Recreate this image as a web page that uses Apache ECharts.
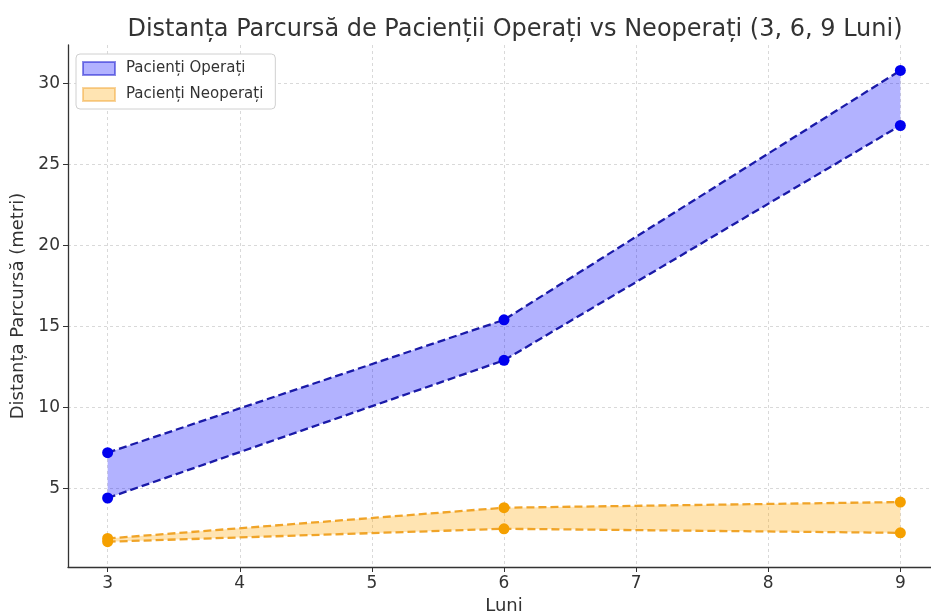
<!DOCTYPE html>
<html>
<head>
<meta charset="utf-8">
<script src="https://cdn.jsdelivr.net/npm/echarts@6/dist/echarts.min.js"></script>
<style>
html,body{margin:0;padding:0;background:#fff;}
#chart{width:931px;height:612px;}
</style>
</head>
<body>
<div id="chart"></div>
<script>
// ---- data ----
const months = [3, 6, 9];
const operatedHigh = [7.2, 15.4, 30.8];
const operatedLow = [4.4, 12.9, 27.4];
const nonOperatedHigh = [1.9, 3.8, 4.15];
const nonOperatedLow = [1.7, 2.5, 2.25];
const titleText = 'Distanța Parcursă de Pacienții Operați vs Neoperați (3, 6, 9 Luni)';
const xName = 'Luni';
const yName = 'Distanța Parcursă (metri)';
const nameOp = 'Pacienți Operați';
const nameNon = 'Pacienți Neoperați';

const FONT = 'DejaVu Sans';

function pairs(xs, ys) { return xs.map((x, i) => [x, ys[i]]); }

function bandSeries(name, low, high, fill, border) {
  return {
    name: name,
    type: 'custom',
    z: 1,
    itemStyle: { color: fill, borderColor: border, borderWidth: 1 },
    data: months.map((m, i) => [m, low[i], high[i]]),
    renderItem: function (params, api) {
      if (params.dataIndex !== 0) return null;
      const pts = [];
      for (let i = 0; i < months.length; i++) pts.push(api.coord([months[i], high[i]]));
      for (let i = months.length - 1; i >= 0; i--) pts.push(api.coord([months[i], low[i]]));
      return {
        type: 'polygon',
        shape: { points: pts },
        style: { fill: fill, stroke: null }
      };
    }
  };
}

function lineSeries(name, ys, lineColor, dotColor) {
  return {
    name: name,
    type: 'line',
    z: 3,
    data: pairs(months, ys),
    symbol: 'circle',
    symbolSize: 11,
    showSymbol: true,
    lineStyle: { color: lineColor, width: 2.3, type: [8, 4] },
    itemStyle: { color: dotColor, borderWidth: 0 },
    emphasis: { disabled: true },
    silent: true
  };
}

const chart = echarts.init(document.getElementById('chart'), null, { renderer: 'canvas' });

const gridLine = { show: true, showMinLine: false, showMaxLine: false, lineStyle: { color: '#d0d0d0', width: 0.8, type: [3, 3] } };

chart.setOption({
  animation: false,
  backgroundColor: '#ffffff',
  textStyle: { fontFamily: FONT },
  title: {
    text: titleText,
    left: 510,
    textAlign: 'center',
    top: 13,
    textStyle: { fontFamily: FONT, fontSize: 24, fontWeight: 'normal', color: '#333' }
  },
  legend: {
    orient: 'vertical',
    left: 76,
    top: 54,
    padding: [7, 12, 7, 6],
    itemGap: 11,
    itemWidth: 32,
    itemHeight: 13,
    backgroundColor: '#fff',
    borderColor: '#d0d0d0',
    borderWidth: 1,
    borderRadius: 4,
    data: [
      { name: nameOp, icon: 'rect' },
      { name: nameNon, icon: 'rect' }
    ],
    textStyle: { fontFamily: FONT, fontSize: 15, color: '#333', padding: [0, 0, 0, 6] }
  },
  grid: { left: 68, top: 45, right: -9, bottom: 45, containLabel: false, outerBoundsMode: 'none' },
  xAxis: {
    type: 'value',
    min: 2.7,
    max: 9.3,
    minInterval: 1,
    maxInterval: 1,
    name: xName,
    nameLocation: 'middle',
    nameGap: 27,
    nameTextStyle: { fontFamily: FONT, fontSize: 18, color: '#333' },
    axisLine: { show: true, lineStyle: { color: '#333', width: 1.3 } },
    axisTick: { show: true, length: 5, lineStyle: { color: '#333' } },
    axisLabel: {
      fontFamily: FONT, fontSize: 17, color: '#333', margin: 8,
      showMinLabel: false, showMaxLabel: false,
      formatter: v => (Number.isInteger(v) ? String(v) : '')
    },
    splitLine: gridLine
  },
  yAxis: {
    type: 'value',
    min: 0.14,
    max: 32.37,
    minInterval: 5,
    maxInterval: 5,
    name: yName,
    nameLocation: 'middle',
    nameGap: 37,
    nameTextStyle: { fontFamily: FONT, fontSize: 18, color: '#333' },
    axisLine: { show: true, lineStyle: { color: '#333', width: 1.3 } },
    axisTick: { show: true, length: 5, lineStyle: { color: '#333' } },
    axisLabel: {
      fontFamily: FONT, fontSize: 17, color: '#333', margin: 8,
      showMinLabel: false, showMaxLabel: false,
      formatter: v => (Number.isInteger(v) && v % 5 === 0 ? String(v) : '')
    },
    splitLine: gridLine
  },
  series: [
    bandSeries(nameOp, operatedLow, operatedHigh, 'rgba(0,0,255,0.3)', 'rgba(0,0,200,0.45)'),
    bandSeries(nameNon, nonOperatedLow, nonOperatedHigh, 'rgba(255,165,0,0.3)', 'rgba(240,160,40,0.45)'),
    lineSeries('opHigh', operatedHigh, '#1a1aa8', '#0000ee'),
    lineSeries('opLow', operatedLow, '#1a1aa8', '#0000ee'),
    lineSeries('nonHigh', nonOperatedHigh, '#f0a428', '#f5a000'),
    lineSeries('nonLow', nonOperatedLow, '#f0a428', '#f5a000')
  ]
});
</script>
</body>
</html>
